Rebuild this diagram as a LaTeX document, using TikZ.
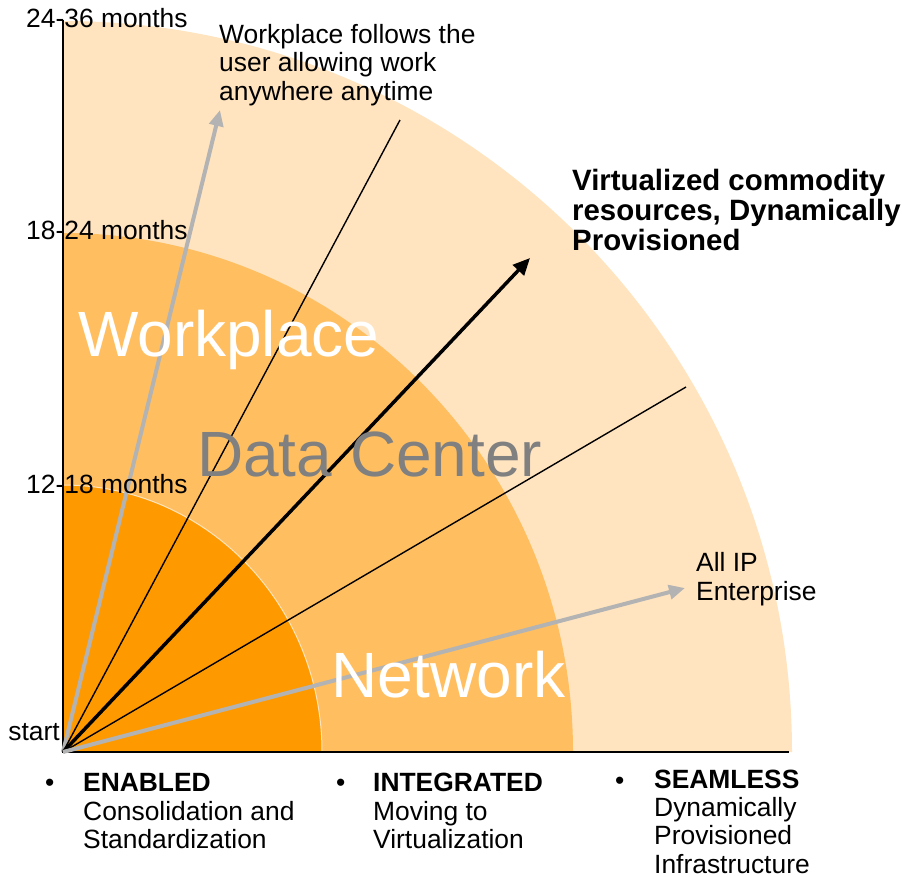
\documentclass[tikz,border=0pt]{standalone}
\usepackage{fontspec}
\setmainfont{Liberation Sans}
\usetikzlibrary{arrows.meta}
\definecolor{ringinner}{HTML}{FF9900}
\definecolor{ringmiddle}{HTML}{FFBF60}
\definecolor{ringouter}{HTML}{FFE4BF}
\definecolor{arrowgray}{HTML}{B3B3B3}
\definecolor{labelgray}{HTML}{808080}

\begin{document}
\begin{tikzpicture}
  [x=1pt,y=-1pt,
   every node/.style={inner sep=0pt,anchor=base west,align=left},
   small/.style={font=\fontsize{26.4}{28.3}\selectfont},
   boldnote/.style={font=\fontsize{29.4}{30}\selectfont\bfseries},
   big/.style={font=\fontsize{64}{64}\selectfont},
   axis/.style={draw=black,line width=2pt},
   thinline/.style={draw=black,line width=1.4pt},
   thickarrow/.style={draw=black,line width=3.5pt,-{Triangle[length=17pt,width=15pt]}},
   grayarrow/.style={draw=arrowgray,line width=4pt,-{Triangle[length=16pt,width=14pt]}}]
  \useasboundingbox (0,0) rectangle (902,876);

  \coordinate (start) at (63,752);
  \coordinate (axistop) at (63,20);
  \coordinate (axisend) at (789,752);

  % the three rings
  \fill[ringouter] (start) -- ++(729,0) arc[start angle=0,end angle=-90,x radius=729,y radius=731] -- cycle;
  \fill[ringmiddle] (start) -- ++(510,0) arc[start angle=0,end angle=-90,x radius=510,y radius=519] -- cycle;
  \filldraw[fill=ringinner,draw=ringmiddle!40!white,line width=1pt] (start) -- ++(259,0) arc[start angle=0,end angle=-90,x radius=259,y radius=267] -- cycle;

  \draw[axis] (axistop) -- (start) -- (axisend);

  \coordinate (tipwork) at (220,110);
  \coordinate (tipupper) at (400,120);
  \coordinate (tipcore) at (530,258);
  \coordinate (tiplower) at (686,387);
  \coordinate (tipnet) at (685,588);

  \foreach \to/\look in {tipwork/grayarrow,tipupper/thinline,tipcore/thickarrow,tiplower/thinline,tipnet/grayarrow}
    \draw[\look] (start) -- (\to);

  \node[small] (mtop) at (26,27.3) {24-36 months};
  \node[small] (mmid) at (26,239) {18-24 months};
  \node[small] (mlow) at (26,493) {12-18 months};
  \node[small,anchor=base east] (mstart) at (60,740) {start};

  % multi-line texts sit on their last line
  \node[small] (worknote) at (219,100) {Workplace follows the\\user allowing work\\anywhere anytime};
  \node[boldnote] (corenote) at (572,250.7) {Virtualized commodity\\resources, Dynamically\\Provisioned};
  \node[small] (netnote) at (696,600) {All IP\\Enterprise};

  \node[big,text=white] (workplace) at (78,356) {Workplace};
  \node[big,text=labelgray] (datacenter) at (197,476) {Data Center};
  \node[big,text=white] (network) at (331,697) {Network};

  \node[small] (dotenabled) at (45,791.7) {•};
  \node[small] (dotintegrated) at (336,791.7) {•};
  \node[small] (dotseamless) at (615,789) {•};
  \node[small] (enabled) at (83,848.3) {\textbf{ENABLED}\\Consolidation and\\Standardization};
  \node[small] (integrated) at (373,848.3) {\textbf{INTEGRATED}\\Moving to\\Virtualization};
  \node[small] (seamless) at (654,873) {\textbf{SEAMLESS}\\Dynamically\\Provisioned\\Infrastructure};
\end{tikzpicture}
\end{document}
